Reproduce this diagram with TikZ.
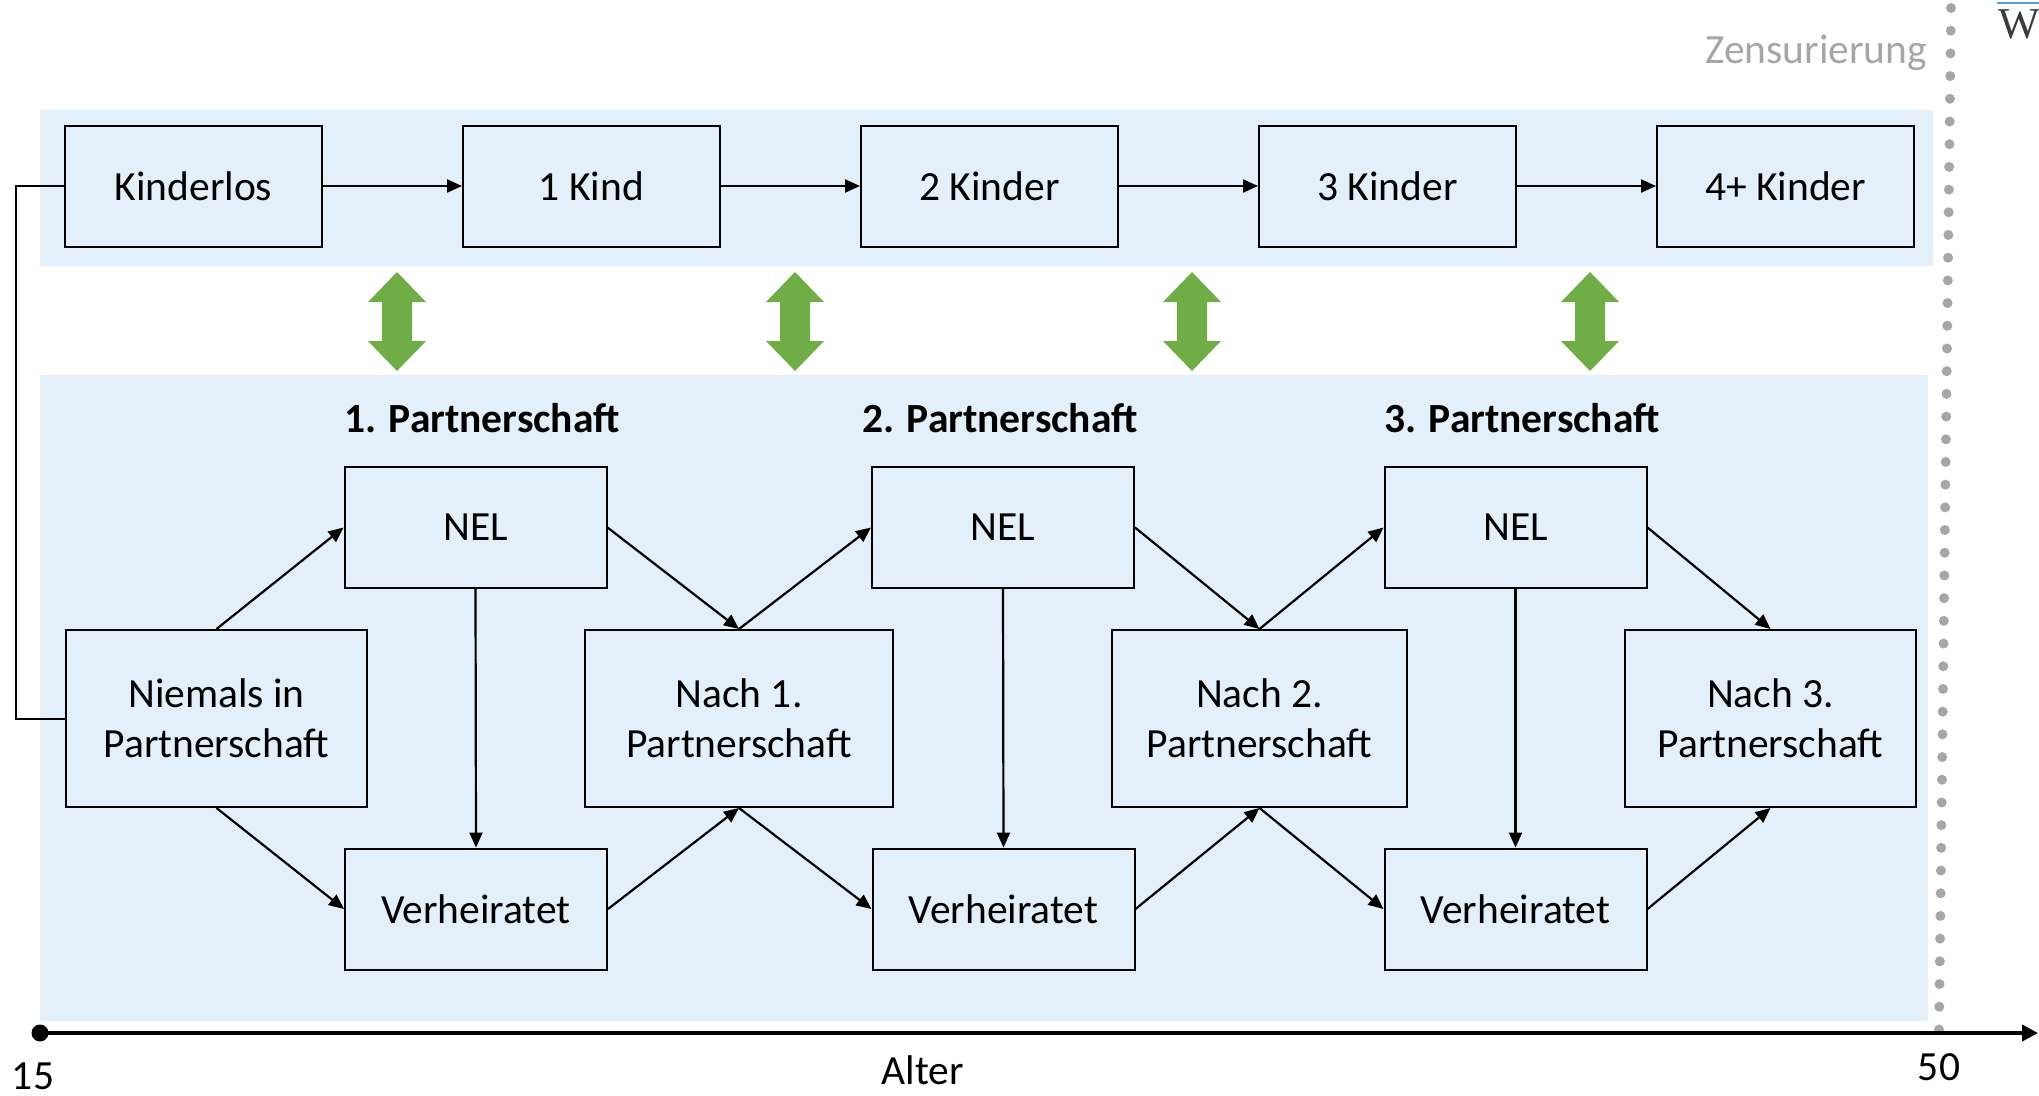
\documentclass[tikz,border=0pt]{standalone}
\usepackage{fontspec}
\setmainfont{Carlito}
\newfontfamily\logofont{Liberation Serif}
\usetikzlibrary{arrows.meta}
\definecolor{bandblue}{RGB}{228,240,249}
\definecolor{arrowgreen}{RGB}{112,173,71}
\definecolor{censorgray}{RGB}{166,166,166}
\definecolor{logoblue}{RGB}{91,155,213}
\definecolor{logogray}{RGB}{60,60,60}

\begin{document}
\begin{tikzpicture}[x=1pt,y=-1pt,
  stbox/.style={shape=rectangle,draw=black,line width=2pt,fill=bandblue,inner sep=0pt,align=center,font=\fontsize{41.5}{50}\selectfont},
  stboxK/.style={stbox,minimum width=257pt,minimum height=121pt},
  stboxP/.style={stbox,minimum width=262pt,minimum height=121pt},
  stboxN/.style={stbox,minimum height=177pt},
  trans/.style={line width=2.2pt,-{Triangle[length=15pt,width=13pt]}},
  lbl/.style={inner sep=0pt,font=\fontsize{41.5}{50}\selectfont},
  head/.style={lbl,anchor=base,font=\fontsize{41.5}{50}\selectfont\bfseries}]
\def\yK{186}
\def\yN{527.5}
\def\yP{718.5}
\def\yV{909}

\useasboundingbox (0,0) rectangle (2039,1095);
\clip (0,0) rectangle (2039,1095);

\fill[bandblue] (40,110) rectangle (1933,266);
\fill[bandblue] (40,375) rectangle (1928,1021);

\foreach \cx in {397,795,1192,1590}
  \fill[arrowgreen] (\cx,272) -- (\cx+29,302) -- (\cx+15,302) -- (\cx+15,341) -- (\cx+29,341) -- (\cx,371)
    -- (\cx-29,341) -- (\cx-15,341) -- (\cx-15,302) -- (\cx-29,302) -- cycle;

\node[stboxK] (K0) at (193.5,\yK) {Kinderlos};
\node[stboxK] (K1) at (591.5,\yK) {1 Kind};
\node[stboxK] (K2) at (989.5,\yK) {2 Kinder};
\node[stboxK] (K3) at (1387.5,\yK) {3 Kinder};
\node[stboxK] (K4) at (1785.5,\yK) {4+ Kinder};
\foreach \i/\j in {0/1,1/2,2/3,3/4}
  \draw[trans] (K\i.east) -- (K\j.west);

\node[head] (H1) at (482,432) {1. Partnerschaft};
\node[head] (H2) at (1000,432) {2. Partnerschaft};
\node[head] (H3) at (1522,432) {3. Partnerschaft};

\node[stboxN,minimum width=301pt] (P0) at (216.5,\yP) {Niemals in\\Partnerschaft};
\node[stboxP] (N1) at (475.5,\yN) {NEL};
\node[stboxP] (V1) at (476,\yV) {Verheiratet};
\node[stboxN,minimum width=308pt] (P1) at (739,\yP) {Nach 1.\\Partnerschaft};
\node[stboxP] (N2) at (1003,\yN) {NEL};
\node[stboxP] (V2) at (1003.5,\yV) {Verheiratet};
\node[stboxN,minimum width=295pt] (P2) at (1259.5,\yP) {Nach 2.\\Partnerschaft};
\node[stboxP] (N3) at (1515.5,\yN) {NEL};
\node[stboxP] (V3) at (1515.5,\yV) {Verheiratet};
\node[stboxN,minimum width=291pt] (P3) at (1770.5,\yP) {Nach 3.\\Partnerschaft};

\foreach \j/\i in {0/1,1/2,2/3}{
  \draw[trans] (P\j.north) -- (N\i.west);
  \draw[trans] (P\j.south) -- (V\i.west);
  \draw[trans] (N\i.south) -- (V\i.north);
  \draw[trans] (N\i.east) -- (P\i.north);
  \draw[trans] (V\i.east) -- (P\i.south);
}

\draw[line width=2pt] (K0.west) -- ++(-48,0) |- (P0.west);

\coordinate (Z0) at (1951,8);
\coordinate (Z1) at (1939,1030);
\draw[censorgray,line width=10pt,line cap=round,dash pattern=on 0pt off 22.7pt] (Z0) -- (Z1);
\node[lbl,anchor=base east,text=censorgray] (zens) at (1927,63) {Zensurierung};

\coordinate (A0) at (40,1033);
\coordinate (A1) at (2038,1033);
\draw[line width=4pt,-{Triangle[length=16pt,width=16pt]}] (A0) -- (A1);
\fill (A0) circle (8.5pt);
\node[lbl] (a15) at (33,1076) {15};
\node[lbl] (alter) at (923,1070) {Alter};
\node[lbl] (a50) at (1939,1067) {50};

\draw[logoblue,line width=2pt] (1997,3) -- (2039,3);
\node[inner sep=0pt,anchor=base west,text=logogray,font=\logofont\fontsize{44}{46}\selectfont] (logo) at (1998,38) {W};
\end{tikzpicture}
\end{document}
